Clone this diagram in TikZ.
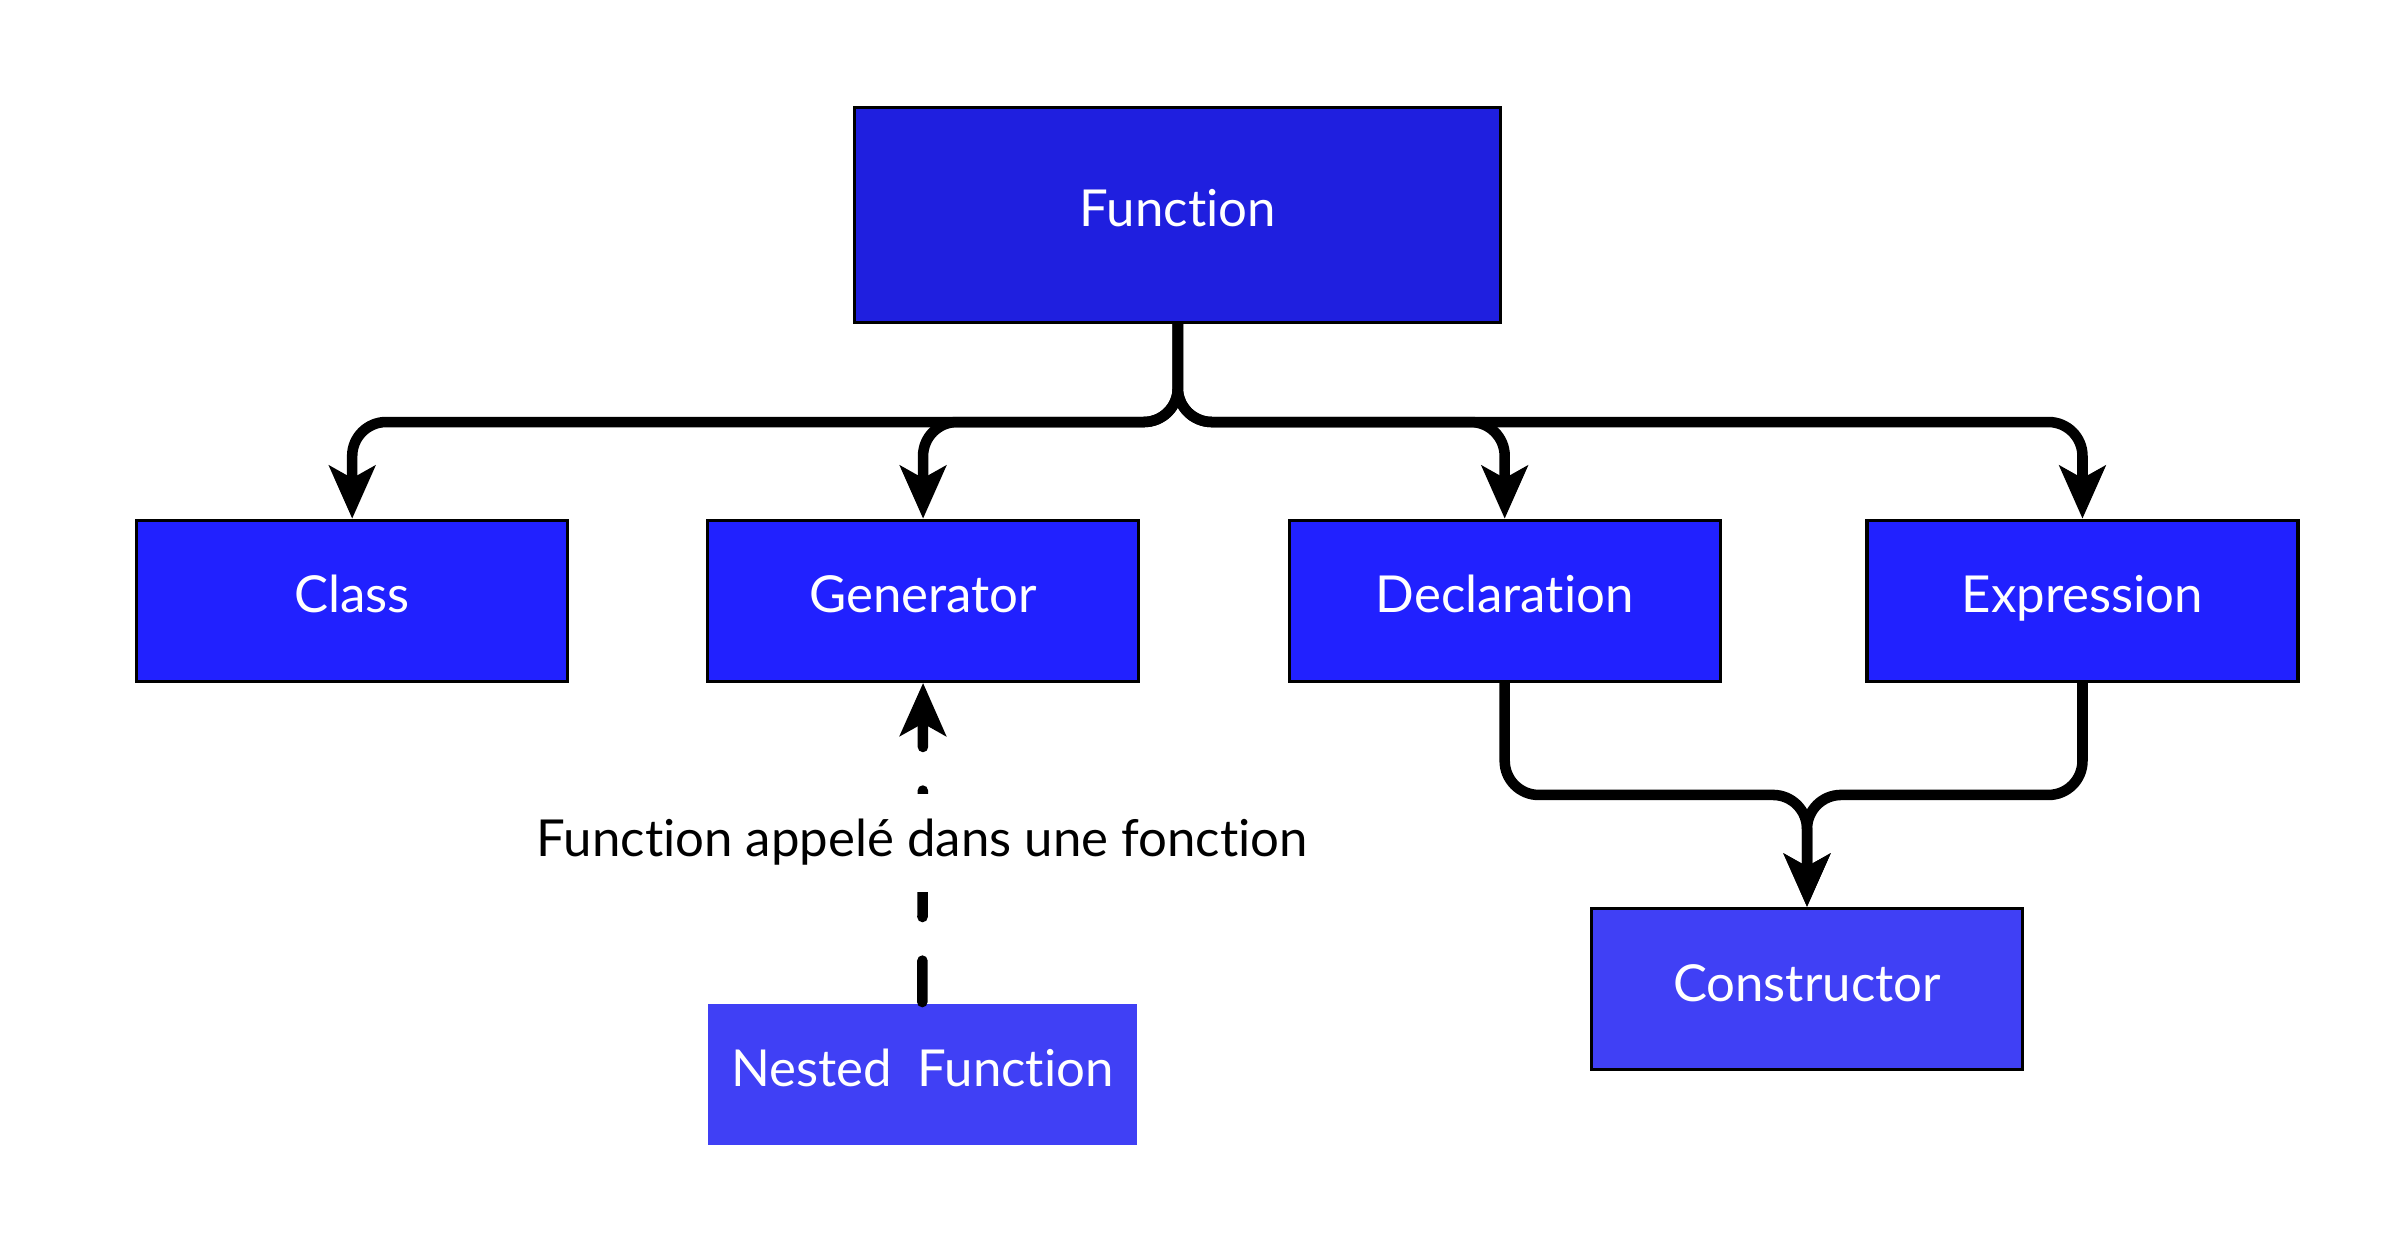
\documentclass[tikz,border=0pt]{standalone}
\usepackage{fontspec}
\setmainfont{Lato}[Ligatures=NoCommon]
\usetikzlibrary{arrows.meta}
\definecolor{topblue}{HTML}{1F1FDF}
\definecolor{midblue}{HTML}{2121FF}
\definecolor{lightblue}{HTML}{4040F5}
\begin{document}
\begin{tikzpicture}[x=0.015346cm,y=-0.015346cm,
  box/.style={draw=black,line width=0.9pt,fill=midblue,text=white,minimum width=4.312cm,minimum height=1.611cm,inner sep=0pt,text height=0.72em,text depth=0.04em,font=\fontsize{14.5}{17}\selectfont},
  topbox/.style={box,fill=topblue,minimum width=6.461cm,minimum height=2.148cm},
  lowbox/.style={box,fill=lightblue},
  nestbox/.style={box,draw=none,fill=lightblue,minimum width=4.297cm,minimum height=1.412cm},
  conn/.style={line width=3pt,rounded corners=3.4mm,-{Stealth[length=15pt,width=13pt,inset=3.5pt]}},
  dashconn/.style={line width=3pt,line cap=round,dash pattern=on 11.8pt off 12.4pt,-{Stealth[length=15pt,width=13pt,inset=3.5pt]}},
  lbl/.style={fill=white,text=black,inner sep=0pt,minimum height=0.98cm,font=\fontsize{14.5}{17}\selectfont}
]
\useasboundingbox (0,0) rectangle (1560,812.6);
\node[topbox] (F) at (767.5,140) {Function};
\node[box] (C) at (229.5,391.5) {Class};
\node[box] (G) at (601.5,391.5) {Generator};
\node[box] (D) at (980.5,391.5) {Declaration};
\node[box] (E) at (1357,391.5) {Expression};
\node[lowbox] (K) at (1177.5,644.5) {Constructor};
\node[nestbox] (N) at (601,700) {Nested\ \ Function};

\draw[conn] (F.south) -- ++(0,64) -| (C.north);
\draw[conn] (F.south) -- ++(0,64) -| (G.north);
\draw[conn] (F.south) -- ++(0,64) -| (D.north);
\draw[conn] (F.south) -- ++(0,64) -| (E.north);
\draw[conn] (D.south) -- ++(0,73) -| (K.north);
\draw[conn] (E.south) -- ++(0,73) -| (K.north);

\draw[dashconn] (N.north) -- (G.south);
\node[lbl] (L) at (601,549) {Function appelé dans une fonction};
\end{tikzpicture}
\end{document}
